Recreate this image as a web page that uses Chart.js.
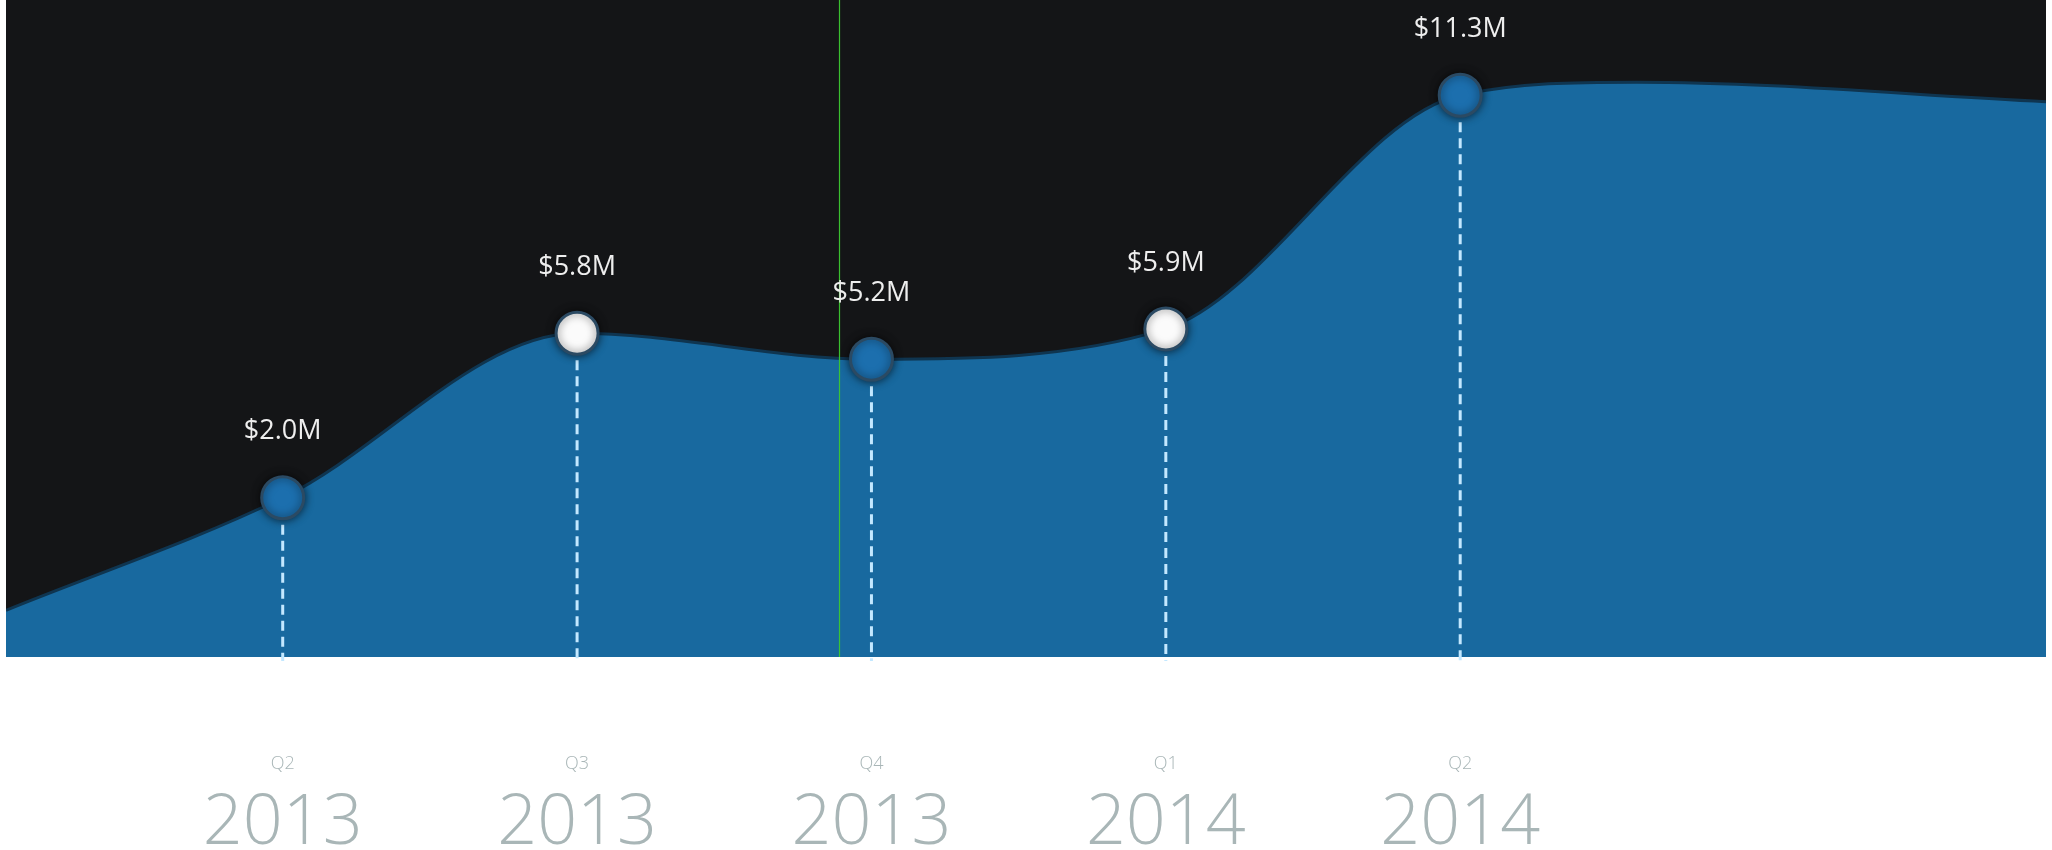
<!DOCTYPE html>
<html>
<head>
<meta charset="utf-8">
<title>Quarterly revenue</title>
<script src="https://cdn.jsdelivr.net/npm/chart.js@4.4.1/dist/chart.umd.min.js"></script>
<style>
    html, body { margin: 0; padding: 0; background: #ffffff; }
    #wrap { position: relative; width: 2052px; height: 850px; }
</style>
</head>
<body>
<div id="wrap"><canvas id="revenueChart"></canvas></div>
<script>
// Quarter / year labels and revenue ($M) per quarter
const quarters = ['Q2', 'Q3', 'Q4', 'Q1', 'Q2'];
const years = ['2013', '2013', '2013', '2014', '2014'];
const revenue = [2.0, 5.8, 5.2, 5.9, 11.3];
const highlighted = [false, true, false, true, false];

// where the curve enters and leaves the panel (x in quarter steps)
const leadX = [0.06];
const leadY = [-0.6];
const tailX = [5.6, 6.99];
const tailY = [11.6, 11.15];

// x of the thin guide line
const guideX = 2.89;

const positions = revenue.map((v, i) => i + 1);

const outline = []
    .concat(leadX.map((x, i) => ({ x: x, y: leadY[i] })))
    .concat(revenue.map((v, i) => ({ x: positions[i], y: v })))
    .concat(tailX.map((x, i) => ({ x: x, y: tailY[i] })));

const markers = revenue.map((v, i) => ({ x: positions[i], y: v }));

const X_MIN = 0.06, X_MAX = 6.99;
const MARKER_R = 21;

// dark panel behind the plot
const panelPlugin = {
    id: 'panel',
    beforeDatasetsDraw(chart) {
        const { ctx, chartArea: a } = chart;
        ctx.save();
        ctx.fillStyle = '#141517';
        ctx.fillRect(a.left, a.top, a.right - a.left, a.bottom - a.top);
        ctx.restore();
    }
};

// dashed drop lines and the guide line over the area, then shadowed markers and value labels
const dropLinePlugin = {
    id: 'dropLines',
    afterDatasetDraw(chart, args) {
        if (args.index !== 0) return;
        const { ctx, chartArea: a } = chart;
        const xs = chart.scales.xq, ys = chart.scales.y;
        ctx.save();
        const gx = Math.round(xs.getPixelForValue(guideX)) + 0.5;
        ctx.strokeStyle = 'rgba(60, 200, 50, 0.95)';
        ctx.lineWidth = 1.2;
        ctx.beginPath();
        ctx.moveTo(gx, a.top);
        ctx.lineTo(gx, a.bottom);
        ctx.stroke();

        ctx.strokeStyle = 'rgba(195, 232, 255, 1)';
        ctx.lineWidth = 3;
        ctx.setLineDash([10, 6]);
        revenue.forEach((v, i) => {
            const px = xs.getPixelForValue(positions[i]);
            const py = ys.getPixelForValue(v);
            ctx.beginPath();
            ctx.moveTo(px, py + MARKER_R + 6);
            ctx.lineTo(px, a.bottom + 4);
            ctx.stroke();
        });
        ctx.restore();
    },
    beforeDatasetDraw(chart, args) {
        if (args.index === 1) {
            chart.ctx.save();
            chart.ctx.shadowColor = 'rgba(0, 0, 0, 0.6)';
            chart.ctx.shadowBlur = 9;
        }
    },
    afterDatasetsDraw(chart) {
        const { ctx } = chart;
        const xs = chart.scales.xq, ys = chart.scales.y;
        ctx.restore();
        ctx.save();
        ctx.fillStyle = '#eeeeee';
        ctx.font = '27px "Open Sans", sans-serif';
        ctx.textAlign = 'center';
        ctx.textBaseline = 'middle';
        revenue.forEach((v, i) => {
            const px = xs.getPixelForValue(positions[i]);
            const py = ys.getPixelForValue(v);
            ctx.fillText('$' + v.toFixed(1) + 'M', px, py - 66);
        });
        ctx.restore();
    }
};

function fixedTicks(scale) {
    scale.ticks = positions.map(p => ({ value: p }));
}

new Chart(document.getElementById('revenueChart'), {
    type: 'line',
    data: {
        datasets: [{
            data: outline,
            xAxisID: 'xq',
            yAxisID: 'y',
            order: 2,
            fill: 'start',
            backgroundColor: '#18699f',
            borderColor: '#0f3550',
            borderWidth: 3,
            cubicInterpolationMode: 'monotone',
            pointRadius: 0
        }, {
            data: markers,
            xAxisID: 'xq',
            yAxisID: 'y',
            order: 1,
            showLine: false,
            clip: false,
            pointRadius: MARKER_R,
            pointHoverRadius: MARKER_R,
            pointBorderWidth: 3,
            pointBorderColor: '#2b4a63',
            pointBackgroundColor: ctx => highlighted[ctx.dataIndex] ? '#fbfbfb' : '#1c6fae'
        }]
    },
    options: {
        responsive: true,
        maintainAspectRatio: false,
        animation: false,
        layout: { autoPadding: false, padding: { left: 6, right: 6, top: 0, bottom: 0 } },
        plugins: {
            legend: { display: false },
            tooltip: { enabled: false }
        },
        scales: {
            xq: {
                type: 'linear',
                position: 'bottom',
                min: X_MIN,
                max: X_MAX,
                afterBuildTicks: fixedTicks,
                afterFit: s => { s.height = 125; },
                grid: { display: false, drawTicks: false },
                border: { display: false },
                ticks: {
                    padding: 96,
                    maxRotation: 0,
                    autoSkip: false,
                    color: '#a9b6b7',
                    font: { family: '"Open Sans", sans-serif', size: 18, weight: 300 },
                    callback: v => quarters[positions.indexOf(v)]
                }
            },
            xy: {
                type: 'linear',
                position: 'bottom',
                min: X_MIN,
                max: X_MAX,
                afterBuildTicks: fixedTicks,
                afterFit: s => { s.height = 68; },
                grid: { display: false, drawTicks: false },
                border: { display: false },
                ticks: {
                    padding: 0,
                    maxRotation: 0,
                    autoSkip: false,
                    color: '#a9b6b7',
                    font: { family: '"Open Sans", sans-serif', size: 70, weight: 300 },
                    callback: v => years[positions.indexOf(v)]
                }
            },
            y: {
                display: false,
                min: -1.68,
                max: 13.5
            }
        }
    },
    plugins: [panelPlugin, dropLinePlugin]
});
</script>
</body>
</html>
